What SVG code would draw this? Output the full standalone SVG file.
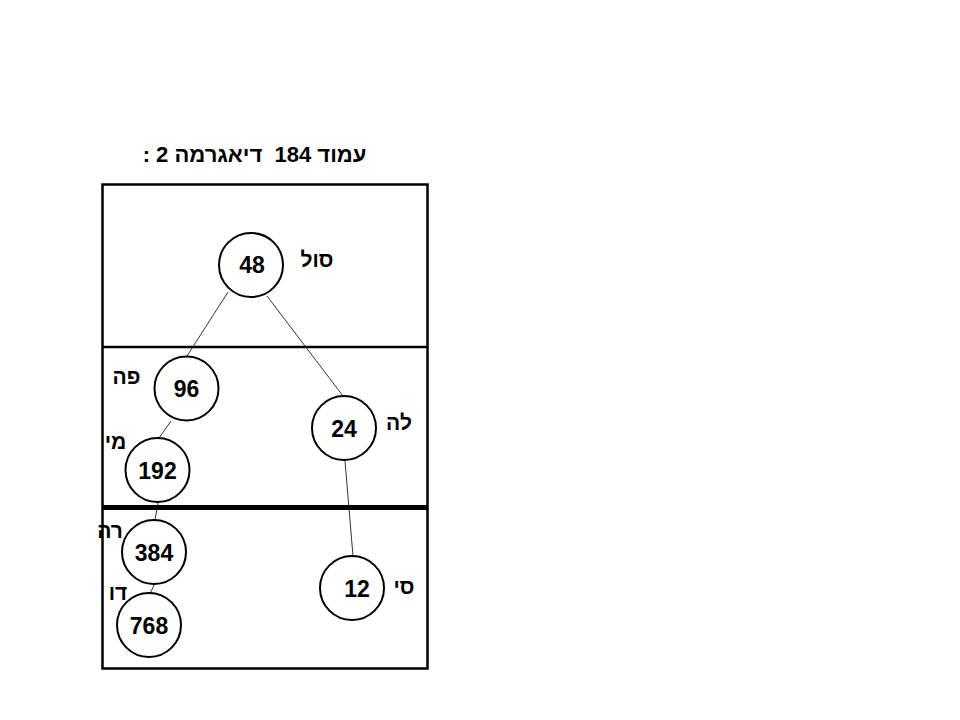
<svg xmlns="http://www.w3.org/2000/svg" width="960" height="720" viewBox="0 0 960 720">
<style>
.node circle{fill:#fff;stroke:#000;stroke-width:2}
.num{font-family:"Liberation Sans",Arial,sans-serif;font-weight:bold;font-size:23px;text-anchor:middle;fill:#000}
.lbl{font-family:"Liberation Sans",Arial,"DejaVu Sans",sans-serif;font-weight:bold;font-size:21px;text-anchor:middle;fill:#000;direction:rtl}
#edges line{stroke:#000;stroke-width:0.8}
</style>
<rect x="0" y="0" width="960" height="720" fill="#fff"/>
<text x="254.5" y="162" class="lbl" style="font-size:22px" xml:space="preserve">עמוד 184  דיאגרמה 2 :</text>
<g id="frame" fill="none" stroke="#000">
<rect x="102.5" y="184.5" width="325" height="484" stroke-width="2.5"/>
<line x1="102" y1="347" x2="428" y2="347" stroke-width="2.5"/>
<line x1="102" y1="507.5" x2="428" y2="507.5" stroke-width="5"/>
</g>
<g id="edges">
<line x1="228" y1="292" x2="187" y2="356"/>
<line x1="267" y1="296" x2="343" y2="396"/>
<line x1="171" y1="421" x2="159" y2="438"/>
<line x1="158" y1="503" x2="155" y2="520"/>
<line x1="154" y1="585" x2="150" y2="594"/>
<line x1="345" y1="461" x2="353" y2="556"/>
</g>
<g id="n48" class="node"><circle cx="251" cy="265" r="32"/><text x="252" y="273" class="num">48</text></g>
<g id="n96" class="node"><circle cx="186.5" cy="388.5" r="32"/><text x="186.5" y="397" class="num">96</text></g>
<g id="n24" class="node"><circle cx="344" cy="428" r="32"/><text x="344" y="436.5" class="num">24</text></g>
<g id="n192" class="node"><circle cx="157.5" cy="470" r="32"/><text x="157.5" y="478.5" class="num">192</text></g>
<g id="n384" class="node"><circle cx="154" cy="552" r="32"/><text x="154" y="560.5" class="num">384</text></g>
<g id="n768" class="node"><circle cx="149" cy="625" r="32"/><text x="149" y="633.5" class="num">768</text></g>
<g id="n12" class="node"><circle cx="352" cy="588" r="32"/><text x="357" y="596.5" class="num">12</text></g>
<g id="labels">
<text x="317" y="267" class="lbl">סול</text>
<text x="126.5" y="384" class="lbl">פה</text>
<text x="399" y="430" class="lbl">לה</text>
<text x="115.5" y="449" class="lbl">מי</text>
<text x="110" y="538" class="lbl">רה</text>
<text x="118" y="600" class="lbl">דו</text>
<text x="404" y="594" class="lbl">סי</text>
</g>
</svg>
